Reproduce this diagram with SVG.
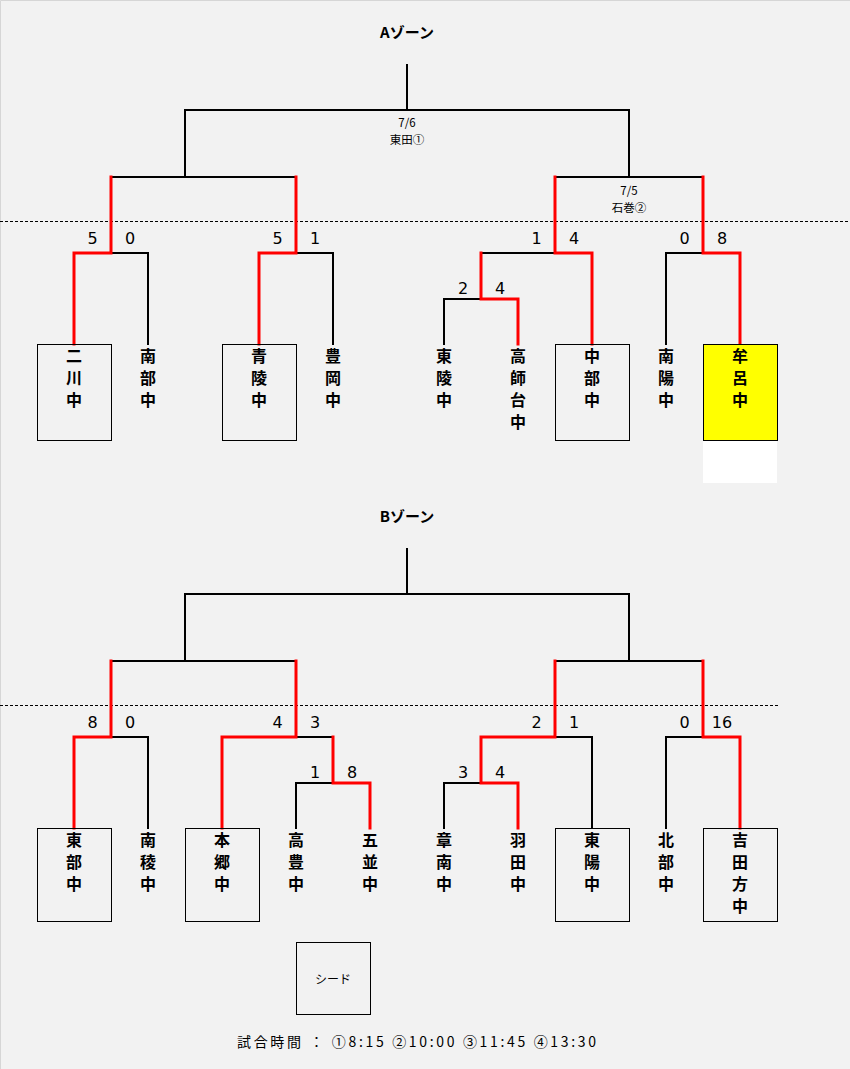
<svg xmlns="http://www.w3.org/2000/svg" width="850" height="1069" viewBox="0 0 850 1069">
<style>
.bg{fill:#f2f2f2}
.edge{stroke:#d6d6d6;stroke-width:1;fill:none}
.blk{stroke:#000;stroke-width:2;fill:none;stroke-linecap:square}
.red{stroke:#ff0000;stroke-width:3;fill:none;stroke-linecap:square}
.dash{stroke:#000;stroke-width:1;stroke-dasharray:3 2;fill:none}
.box{fill:none;stroke:#000;stroke-width:1}
.win{fill:#ffff00;stroke:#000;stroke-width:1}
.title{font-family:"Noto Sans CJK JP","Liberation Sans",sans-serif;font-size:15px;font-weight:bold;text-anchor:middle;fill:#000}
.name{font-family:"Noto Sans CJK JP",sans-serif;font-size:16px;font-weight:bold;text-anchor:middle;fill:#000}
.score{font-family:"DejaVu Sans","Noto Sans CJK JP",sans-serif;font-size:16px;text-anchor:middle;fill:#000}
.date{font-family:"Noto Sans CJK JP",sans-serif;font-size:11.5px;text-anchor:middle;fill:#000}
.small{font-family:"Noto Sans CJK JP",sans-serif;font-size:12px;text-anchor:middle;fill:#000}
.foot{font-family:"Noto Sans CJK JP",sans-serif;font-size:14px;fill:#000}
</style>
<rect class="bg" x="0" y="0" width="850" height="1069"/>
<path class="edge" d="M0.5,1069 V0.5 H850"/>

<g id="titles">
<text class="title" x="407" y="38">Aゾーン</text>
<text class="title" x="407" y="522">Bゾーン</text>
</g>

<g id="separators">
<line class="dash" x1="0" y1="221.5" x2="850" y2="221.5"/>
<line class="dash" x1="0" y1="705.5" x2="778" y2="705.5"/>
</g>

<g id="connectors">
<path class="blk" d="M407,65 V110"/>
<path class="blk" d="M185,177 V110 H629 V177"/>
<path class="blk" d="M111,177 H296"/>
<path class="blk" d="M555,177 H703"/>
<path class="blk" d="M111,253 H148 V344"/>
<path class="blk" d="M296,253 H333 V344"/>
<path class="blk" d="M481,253 H555"/>
<path class="blk" d="M481,299 H444 V344"/>
<path class="blk" d="M703,253 H666 V344"/>
<path class="red" d="M111,177 V253 H74 V344"/>
<path class="red" d="M296,177 V253 H259 V344"/>
<path class="red" d="M555,177 V253 H592 V344"/>
<path class="red" d="M481,253 V299 H518 V344"/>
<path class="red" d="M703,177 V253 H740 V344"/>
<path class="blk" d="M407,549 V594"/>
<path class="blk" d="M185,661 V594 H629 V661"/>
<path class="blk" d="M111,661 H296"/>
<path class="blk" d="M555,661 H703"/>
<path class="blk" d="M111,737 H148 V828"/>
<path class="blk" d="M296,737 H333"/>
<path class="blk" d="M333,783 H296 V828"/>
<path class="blk" d="M555,737 H592 V828"/>
<path class="blk" d="M481,783 H444 V828"/>
<path class="blk" d="M703,737 H666 V828"/>
<path class="red" d="M111,661 V737 H74 V828"/>
<path class="red" d="M296,661 V737 H222 V828"/>
<path class="red" d="M333,737 V783 H370 V828"/>
<path class="red" d="M555,661 V737 H481 V783 H518 V828"/>
<path class="red" d="M703,661 V737 H740 V828"/>
</g>

<g id="dates">
<text class="date" x="407" y="127">7/6</text>
<text class="date" x="407" y="144">東田①</text>
<text class="date" x="629" y="195">7/5</text>
<text class="date" x="629" y="212">石巻②</text>
</g>

<g id="scores">
<text class="score" x="92.5" y="244">5</text>
<text class="score" x="130" y="244">0</text>
<text class="score" x="277.5" y="244">5</text>
<text class="score" x="315" y="244">1</text>
<text class="score" x="536.5" y="244">1</text>
<text class="score" x="574" y="244">4</text>
<text class="score" x="684.5" y="244">0</text>
<text class="score" x="722" y="244">8</text>
<text class="score" x="463" y="294">2</text>
<text class="score" x="500" y="294">4</text>
<text class="score" x="92.5" y="728">8</text>
<text class="score" x="130" y="728">0</text>
<text class="score" x="277.5" y="728">4</text>
<text class="score" x="315" y="728">3</text>
<text class="score" x="536.5" y="728">2</text>
<text class="score" x="574" y="728">1</text>
<text class="score" x="684.5" y="728">0</text>
<text class="score" x="722" y="728">16</text>
<text class="score" x="315" y="778">1</text>
<text class="score" x="352" y="778">8</text>
<text class="score" x="463" y="778">3</text>
<text class="score" x="500" y="778">4</text>
</g>

<g id="a-futakawa">
<rect class="box" x="37.5" y="344.5" width="74" height="96"/>
<text class="name"><tspan x="74" y="362">二</tspan><tspan x="74" y="384">川</tspan><tspan x="74" y="406">中</tspan></text>
</g>
<g id="a-nambu">
<text class="name"><tspan x="148" y="362">南</tspan><tspan x="148" y="384">部</tspan><tspan x="148" y="406">中</tspan></text>
</g>
<g id="a-seiryo">
<rect class="box" x="222.5" y="344.5" width="74" height="96"/>
<text class="name"><tspan x="259" y="362">青</tspan><tspan x="259" y="384">陵</tspan><tspan x="259" y="406">中</tspan></text>
</g>
<g id="a-toyooka">
<text class="name"><tspan x="333" y="362">豊</tspan><tspan x="333" y="384">岡</tspan><tspan x="333" y="406">中</tspan></text>
</g>
<g id="a-toryo">
<text class="name"><tspan x="444" y="362">東</tspan><tspan x="444" y="384">陵</tspan><tspan x="444" y="406">中</tspan></text>
</g>
<g id="a-takashidai">
<text class="name"><tspan x="518" y="362">高</tspan><tspan x="518" y="384">師</tspan><tspan x="518" y="406">台</tspan><tspan x="518" y="428">中</tspan></text>
</g>
<g id="a-chubu">
<rect class="box" x="555.5" y="344.5" width="74" height="96"/>
<text class="name"><tspan x="592" y="362">中</tspan><tspan x="592" y="384">部</tspan><tspan x="592" y="406">中</tspan></text>
</g>
<g id="a-nanyo">
<text class="name"><tspan x="666" y="362">南</tspan><tspan x="666" y="384">陽</tspan><tspan x="666" y="406">中</tspan></text>
</g>
<g id="a-muro">
<rect class="win" x="703.5" y="344.5" width="74" height="96"/>
<rect x="703" y="441" width="74" height="42" fill="#ffffff"/>
<text class="name"><tspan x="740" y="362">牟</tspan><tspan x="740" y="384">呂</tspan><tspan x="740" y="406">中</tspan></text>
</g>

<g id="b-tobu">
<rect class="box" x="37.5" y="828.5" width="74" height="93"/>
<text class="name"><tspan x="74" y="846">東</tspan><tspan x="74" y="868">部</tspan><tspan x="74" y="890">中</tspan></text>
</g>
<g id="b-nanryo">
<text class="name"><tspan x="148" y="846">南</tspan><tspan x="148" y="868">稜</tspan><tspan x="148" y="890">中</tspan></text>
</g>
<g id="b-hongo">
<rect class="box" x="185.5" y="828.5" width="74" height="93"/>
<text class="name"><tspan x="222" y="846">本</tspan><tspan x="222" y="868">郷</tspan><tspan x="222" y="890">中</tspan></text>
</g>
<g id="b-takatoyo">
<text class="name"><tspan x="296" y="846">高</tspan><tspan x="296" y="868">豊</tspan><tspan x="296" y="890">中</tspan></text>
</g>
<g id="b-gonami">
<text class="name"><tspan x="370" y="846">五</tspan><tspan x="370" y="868">並</tspan><tspan x="370" y="890">中</tspan></text>
</g>
<g id="b-shonan">
<text class="name"><tspan x="444" y="846">章</tspan><tspan x="444" y="868">南</tspan><tspan x="444" y="890">中</tspan></text>
</g>
<g id="b-hada">
<text class="name"><tspan x="518" y="846">羽</tspan><tspan x="518" y="868">田</tspan><tspan x="518" y="890">中</tspan></text>
</g>
<g id="b-toyo">
<rect class="box" x="555.5" y="828.5" width="74" height="93"/>
<text class="name"><tspan x="592" y="846">東</tspan><tspan x="592" y="868">陽</tspan><tspan x="592" y="890">中</tspan></text>
</g>
<g id="b-hokubu">
<text class="name"><tspan x="666" y="846">北</tspan><tspan x="666" y="868">部</tspan><tspan x="666" y="890">中</tspan></text>
</g>
<g id="b-yoshidagata">
<rect class="box" x="703.5" y="828.5" width="74" height="93"/>
<text class="name"><tspan x="740" y="846">吉</tspan><tspan x="740" y="868">田</tspan><tspan x="740" y="890">方</tspan><tspan x="740" y="912">中</tspan></text>
</g>

<g id="seed-legend">
<rect class="box" x="296.5" y="942.5" width="74" height="72"/>
<text class="small" x="333" y="984">シード</text>
</g>

<g id="footer">
<text class="foot" x="237" y="1047" textLength="359" lengthAdjust="spacing">試合時間 ： ①8:15 ②10:00 ③11:45 ④13:30</text>
</g>
</svg>
